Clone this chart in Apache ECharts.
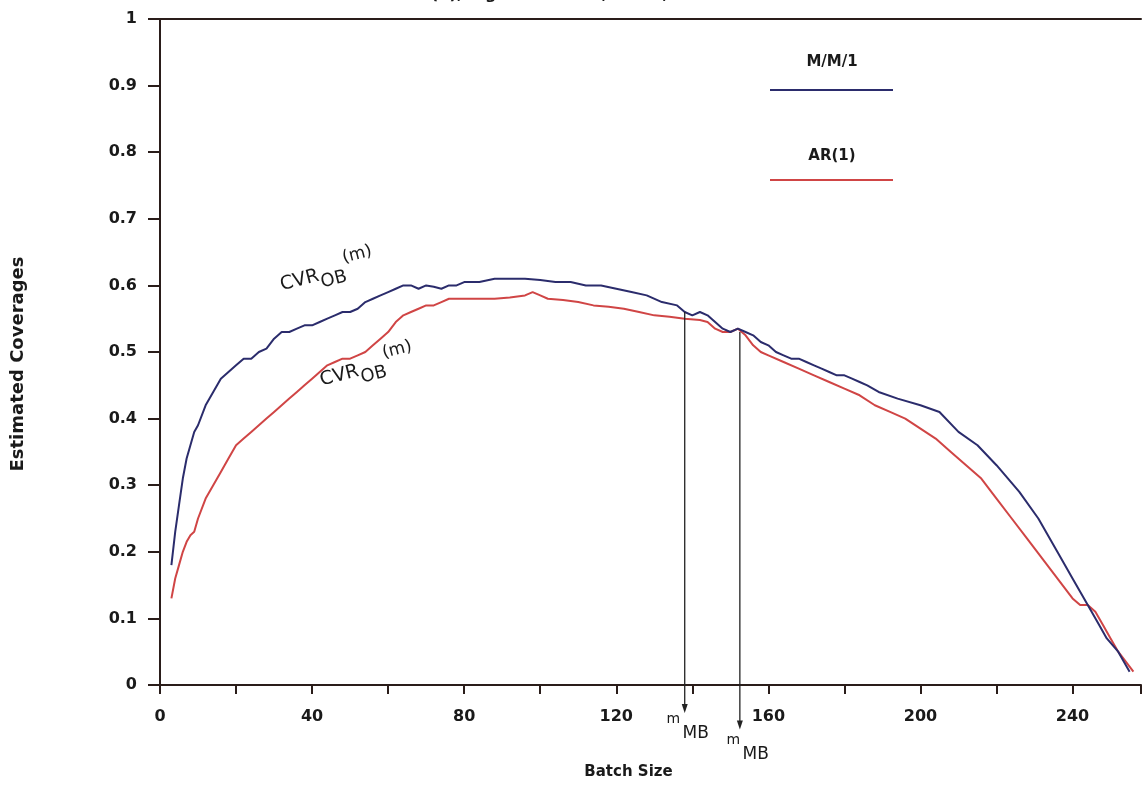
<!DOCTYPE html>
<html><head><meta charset="utf-8">
<script src="https://cdn.jsdelivr.net/npm/echarts@6/dist/echarts.min.js"></script>
<style>html,body{margin:0;padding:0;background:#fff}#c{width:1144px;height:785px}</style>
</head><body><div id="c"></div>
<script>
const titleText = 'AR(1),Avg.Count:0.90,M/M/1,n=1000';
const xAxisName = 'Batch Size';
const yAxisName = 'Estimated Coverages';
const legendNames = ['M/M/1', 'AR(1)'];

const mmBatch = [3,4,5,6,7,8,9,10,12,14,16,18,20,22,24,26,28,30,32,34,36,38,40,42,44,46,48,50,52,54,56,58,60,62,64,66,68,70,72,74,76,78,80,84,88,92,96,100,104,108,112,116,120,124,128,132,136,138,140,142,144,146,148,150,152,154,156,158,160,162,164,166,168,170,172,174,176,178,180,182,184,186,189,194,200,205,210,215,220,226,231,236,240,244,247,249,252,255];
const mmCov   = [0.18,0.23,0.27,0.31,0.34,0.36,0.38,0.39,0.42,0.44,0.46,0.47,0.48,0.49,0.49,0.50,0.505,0.52,0.53,0.53,0.535,0.54,0.54,0.545,0.55,0.555,0.56,0.56,0.565,0.575,0.58,0.585,0.59,0.595,0.60,0.60,0.595,0.60,0.598,0.595,0.60,0.60,0.605,0.605,0.61,0.61,0.61,0.608,0.605,0.605,0.60,0.60,0.595,0.59,0.585,0.575,0.57,0.56,0.555,0.56,0.555,0.545,0.535,0.53,0.535,0.53,0.525,0.515,0.51,0.50,0.495,0.49,0.49,0.485,0.48,0.475,0.47,0.465,0.465,0.46,0.455,0.45,0.44,0.43,0.42,0.41,0.38,0.36,0.33,0.29,0.25,0.20,0.16,0.12,0.09,0.07,0.05,0.02];

const arBatch = [3,4,5,6,7,8,9,10,12,14,16,18,20,22,24,26,28,30,32,34,36,38,40,42,44,46,48,50,52,54,56,58,60,62,64,66,68,70,72,74,76,80,84,88,92,96,98,100,102,106,110,114,118,122,126,130,134,138,142,144,146,148,150,152,154,156,158,160,164,168,172,176,180,184,188,192,196,200,204,208,212,216,220,224,228,232,236,240,242,244,246,248,250,252,254,256];
const arCov   = [0.13,0.16,0.18,0.20,0.215,0.225,0.23,0.25,0.28,0.30,0.32,0.34,0.36,0.37,0.38,0.39,0.40,0.41,0.42,0.43,0.44,0.45,0.46,0.47,0.48,0.485,0.49,0.49,0.495,0.50,0.51,0.52,0.53,0.545,0.555,0.56,0.565,0.57,0.57,0.575,0.58,0.58,0.58,0.58,0.582,0.585,0.59,0.585,0.58,0.578,0.575,0.57,0.568,0.565,0.56,0.555,0.553,0.55,0.548,0.545,0.535,0.53,0.53,0.535,0.525,0.51,0.50,0.495,0.485,0.475,0.465,0.455,0.445,0.435,0.42,0.41,0.40,0.385,0.37,0.35,0.33,0.31,0.28,0.25,0.22,0.19,0.16,0.13,0.12,0.12,0.11,0.09,0.07,0.05,0.035,0.02];

// m_MB arrows: batch position, top value (on curve), bottom value (below axis)
const arrowBatch = [138, 152.5];
const arrowTop = [0.56, 0.53];
const arrowBottom = [-0.042, -0.067];
const mLabelBatch = [133.2, 149];
const mLabelValue = [-0.052, -0.083];
// CVR_OB(m) labels anchored at data points
const cvrBatch = [32.3, 42.8];
const cvrValue = [0.586, 0.443];

const BLUE = '#2b2c6c', RED = '#d04545', AX = '#2a1d1a';
const FONT = '"DejaVu Sans", sans-serif';

const chart = echarts.init(document.getElementById('c'));
const option = {
  backgroundColor: '#ffffff',
  animation: false,
  grid: {left: 160, right: 0, top: 19, bottom: 95},
  xAxis: [{
    type: 'value', min: 0, max: 258, interval: 20,
    axisLine: {show: true, lineStyle: {color: AX, width: 2}},
    axisTick: {show: true, length: 9, lineStyle: {color: AX, width: 2}},
    splitLine: {show: false},
    axisLabel: {margin: 24, color: '#1a1a1a', fontFamily: FONT, fontWeight: 'bold', fontSize: 16,
      formatter: v => (v % 40 === 0 ? String(v) : '')},
    name: xAxisName, nameLocation: 'middle', nameGap: 80,
    nameTextStyle: {fontFamily: FONT, fontWeight: 'bold', fontSize: 15, color: '#1a1a1a', padding: [0, 44, 0, 0]}
  }, {
    type: 'value', position: 'top', min: 0, max: 258,
    axisLine: {show: true, onZero: false, lineStyle: {color: AX, width: 2}},
    axisTick: {show: false}, axisLabel: {show: false}, splitLine: {show: false}
  }],
  yAxis: {
    type: 'value', min: 0, max: 1, interval: 0.1,
    axisLine: {show: true, lineStyle: {color: AX, width: 2}},
    axisTick: {show: true, length: 12, lineStyle: {color: AX, width: 2}},
    splitLine: {show: false},
    axisLabel: {margin: 23, color: '#1a1a1a', fontFamily: FONT, fontWeight: 'bold', fontSize: 16,
      formatter: v => (v === 0 ? '0' : v === 1 ? '1' : v.toFixed(1))},
    name: yAxisName, nameLocation: 'middle', nameGap: 133, nameRotate: 90,
    nameTextStyle: {fontFamily: FONT, fontWeight: 'bold', fontSize: 18, color: '#1a1a1a', padding: [0, 24, 0, 0]}
  },
  series: [
    {name: legendNames[0], type: 'line', showSymbol: false, data: mmBatch.map((m, i) => [m, mmCov[i]]),
     lineStyle: {color: BLUE, width: 2}, itemStyle: {color: BLUE}, z: 3},
    {name: legendNames[1], type: 'line', showSymbol: false, data: arBatch.map((m, i) => [m, arCov[i]]),
     lineStyle: {color: RED, width: 2}, itemStyle: {color: RED}, z: 2}
  ]
};
chart.setOption(option);

const px = (x, y) => chart.convertToPixel({gridIndex: 0}, [x, y]);
const g = [];
// title (cut off at top)
g.push({type: 'text', left: 'center', top: -13, style: {text: titleText, font: 'bold 16px ' + FONT, fill: '#1a1a1a'}});
// legend
g.push({type: 'text', x: 832, y: 62, style: {text: legendNames[0], font: 'bold 15px ' + FONT, fill: '#1a1a1a', align: 'center', verticalAlign: 'middle'}});
g.push({type: 'line', shape: {x1: 770, y1: 90, x2: 893, y2: 90}, style: {stroke: BLUE, lineWidth: 2}});
g.push({type: 'text', x: 832, y: 156, style: {text: legendNames[1], font: 'bold 15px ' + FONT, fill: '#1a1a1a', align: 'center', verticalAlign: 'middle'}});
g.push({type: 'line', shape: {x1: 770, y1: 180, x2: 893, y2: 180}, style: {stroke: RED, lineWidth: 2}});
// arrows
arrowBatch.forEach((b, i) => {
  const p1 = px(b, arrowTop[i]), p2 = px(b, arrowBottom[i]);
  g.push({type: 'line', z: 10, shape: {x1: p1[0], y1: p1[1], x2: p2[0], y2: p2[1] - 4}, style: {stroke: '#222', lineWidth: 1.3}});
  g.push({type: 'polygon', z: 10, shape: {points: [[p2[0] - 3, p2[1] - 9], [p2[0] + 3, p2[1] - 9], [p2[0], p2[1]]]}, style: {fill: '#222'}});
  const q = px(mLabelBatch[i], mLabelValue[i]);
  g.push({type: 'text', z: 10, x: q[0], y: q[1], style: {text: 'm', font: '14px ' + FONT, fill: '#1a1a1a', align: 'left', verticalAlign: 'middle'}});
  g.push({type: 'text', z: 10, x: q[0] + 16, y: q[1] + 14, style: {text: 'MB', font: '17px ' + FONT, fill: '#1a1a1a', align: 'left', verticalAlign: 'middle'}});
});
// CVR labels
cvrBatch.forEach((b, i) => {
  const p = px(b, cvrValue[i]);
  g.push({type: 'group', x: p[0], y: p[1], rotation: 0.25, z: 10, children: [
    {type: 'text', x: 0, y: 0, style: {text: 'CVR', font: '19px ' + FONT, fill: '#1a1a1a', align: 'left', verticalAlign: 'bottom'}},
    {type: 'text', x: 40, y: 7, style: {text: 'OB', font: '18px ' + FONT, fill: '#1a1a1a', align: 'left', verticalAlign: 'bottom'}},
    {type: 'text', x: 67, y: -12, style: {text: '(m)', font: '17px ' + FONT, fill: '#1a1a1a', align: 'left', verticalAlign: 'bottom'}}
  ]});
});
chart.setOption({graphic: g});
</script></body></html>
